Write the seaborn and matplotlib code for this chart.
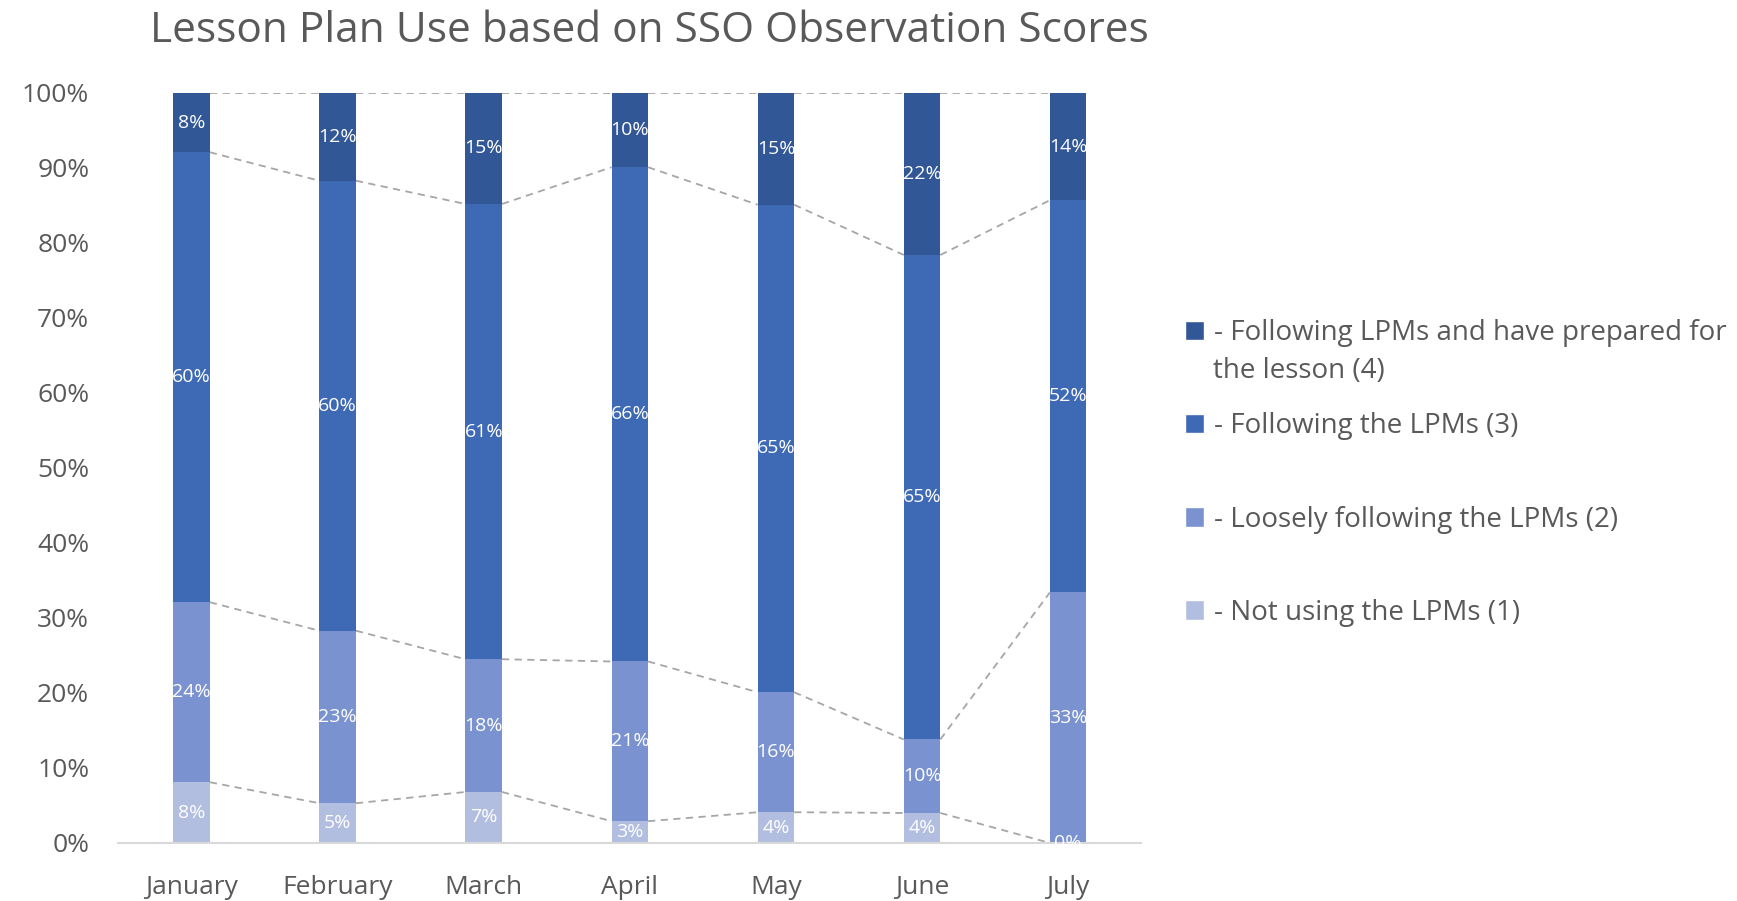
import matplotlib
matplotlib.use("Agg")
import matplotlib.pyplot as plt
import numpy as np
import pandas as pd
import seaborn as sns
from matplotlib.patches import Patch

months = ["January", "February", "March", "April", "May", "June", "July"]
not_using = [8.1, 5.3, 6.8, 2.9, 4.1, 4.0, 0.0]
loosely = [24.0, 23.0, 17.7, 21.3, 16.0, 9.8, 33.4]
following = [60.0, 60.0, 60.7, 65.9, 65.0, 64.6, 52.3]
prepared = [7.9, 11.7, 14.8, 9.9, 14.9, 21.6, 14.3]

series_names = [
    "- Not using the LPMs (1)",
    "- Loosely following the LPMs (2)",
    "- Following the LPMs (3)",
    "- Following LPMs and have prepared for the lesson (4)",
]
colors = ["#B2BEE0", "#7A92CF", "#3E69B5", "#325797"]

sns.set_theme(style="white")
plt.rcParams["font.family"] = ["Open Sans", "DejaVu Sans"]
text_color = "#595959"

df = pd.DataFrame({
    "month": months,
    "s1": not_using,
    "s2": loosely,
    "s3": following,
    "s4": prepared,
})
cols = ["s1", "s2", "s3", "s4"]
cum = df[cols].cumsum(axis=1)

fig = plt.figure(figsize=(17.37, 9.01), dpi=100)
ax = fig.add_axes([0.0682, 0.0644, 0.5888, 0.8324])

bar_w = 0.25
# draw cumulative bars from the tallest down so they overlap into a stack
for k in range(3, -1, -1):
    sns.barplot(x=df["month"], y=cum[cols[k]], color=colors[k], width=bar_w,
                saturation=1, ax=ax, linewidth=0, order=months)

# segment labels
for k in range(4):
    lo = cum[cols[k - 1]] if k > 0 else np.zeros(len(months))
    for i in range(len(months)):
        v = df[cols[k]][i]
        ax.text(i, lo[i] + v / 2, f"{round(v):d}%", ha="center", va="center",
                color="white", fontsize=14)

# dashed series lines between bars
for k in range(4):
    y = cum[cols[k]].values
    for i in range(len(months) - 1):
        ax.plot([i + bar_w / 2, i + 1 - bar_w / 2], [y[i], y[i + 1]],
                ls=(0, (4, 3)), color="#A6A6A6", lw=1.3, zorder=0.5)

ax.set_xlim(-0.5, len(months) - 0.5)
ax.set_ylim(0, 100)
ax.set_yticks(np.arange(0, 101, 10))
ax.set_yticklabels([f"{t}%" for t in range(0, 101, 10)])
ax.set_xlabel("")
ax.set_ylabel("")
for s in ["top", "right", "left"]:
    ax.spines[s].set_visible(False)
ax.spines["bottom"].set_color("#D9D9D9")
ax.spines["bottom"].set_linewidth(1.5)
ax.tick_params(axis="y", labelsize=19, labelcolor=text_color, length=0, pad=21)
ax.tick_params(axis="x", labelsize=19, labelcolor=text_color, length=0, pad=23)

fig.text(0.374, 0.966, "Lesson Plan Use based on SSO Observation Scores",
         ha="center", va="center", fontsize=30.5, color=text_color)

handles = [Patch(facecolor=colors[k]) for k in range(3, -1, -1)]
labels = ["- Following LPMs and have prepared for", series_names[2],
          series_names[1], series_names[0]]
leg = fig.legend(handles, labels, loc="upper left", bbox_to_anchor=(0.682, 0.646),
                 frameon=False, fontsize=20, labelcolor=text_color,
                 handlelength=0.7, handleheight=0.7, handletextpad=0.35,
                 labelspacing=2.35, borderpad=0, borderaxespad=0)
fig.text(0.6985, 0.588, "the lesson (4)", fontsize=20, color=text_color,
         va="center", ha="left")

fig.savefig("out.png", dpi=100)
